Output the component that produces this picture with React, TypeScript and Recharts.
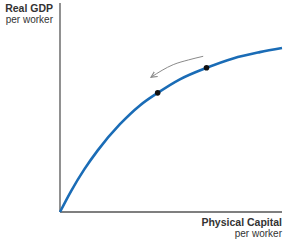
import { Line, LineChart, ReferenceLine, XAxis, YAxis } from 'recharts';

// capital per worker (x) vs output per worker (y)
const capital = [0, 5, 11, 17, 27, 36, 44, 54, 66, 78, 90, 100];
const output = [0, 10, 20.5, 29.5, 42, 51, 57, 63.5, 69, 73.5, 76.5, 78.5];

// the two marked points on the curve
const markedCapital = [44, 66];
const markedOutput = [57, 69];

// gray arrow above the curve, moving back down the curve
const arrowX = [64.5, 58, 51, 41];
const arrowY = [74.5, 72.8, 70.5, 64.5];

const curveData = capital.map((k, i) => ({ k, y: output[i] }));
const pointData = markedCapital.map((k, i) => ({ k, y: markedOutput[i] }));
const arrowData = arrowX.map((k, i) => ({ k, y: arrowY[i] }));

const font = '"Liberation Sans", Arial, sans-serif';

export default function App() {
  return (
    <div style={{ position: 'absolute', left: 0, top: 0, width: 286, height: 246, background: '#fff', fontFamily: font }}>
      <LineChart width={286} height={246} margin={{ top: 3, right: 4, bottom: 34, left: 60 }}>
        <defs>
          <marker id='arrowHead' markerWidth='8' markerHeight='8' refX='6' refY='4' orient='auto' markerUnits='userSpaceOnUse'>
            <path d='M0,1 L6,4 L0,7' fill='none' stroke='#8a8a8a' strokeWidth={1.2} />
          </marker>
        </defs>
        <XAxis type='number' dataKey='k' domain={[0, 100]} hide />
        <YAxis type='number' dataKey='y' domain={[0, 100]} hide />
        <ReferenceLine x={0} stroke='#555' strokeWidth={1.3} />
        <ReferenceLine y={0} stroke='#555' strokeWidth={1.3} />
        <Line
          data={curveData}
          dataKey='y'
          type='monotone'
          stroke='#1a6cb6'
          strokeWidth={2.6}
          dot={false}
          isAnimationActive={false}
        />
        <Line
          data={arrowData}
          dataKey='y'
          type='monotone'
          stroke='#8a8a8a'
          strokeWidth={1}
          dot={false}
          markerEnd='url(#arrowHead)'
          isAnimationActive={false}
        />
        <Line
          data={pointData}
          dataKey='y'
          stroke='none'
          dot={{ r: 2.8, fill: '#111', stroke: '#111', strokeWidth: 0 }}
          isAnimationActive={false}
        />
      </LineChart>

      <div style={{ position: 'absolute', right: 233, top: 2, textAlign: 'right', color: '#333', lineHeight: '12px' }}>
        <div style={{ fontWeight: 'bold', fontSize: 10.5 }}>Real GDP</div>
        <div style={{ fontSize: 10 }}>per worker</div>
      </div>
      <div style={{ position: 'absolute', right: 4, top: 216, textAlign: 'right', color: '#333', lineHeight: '12px' }}>
        <div style={{ fontWeight: 'bold', fontSize: 10.5, whiteSpace: 'nowrap' }}>Physical Capital</div>
        <div style={{ fontSize: 10 }}>per worker</div>
      </div>
    </div>
  );
}
